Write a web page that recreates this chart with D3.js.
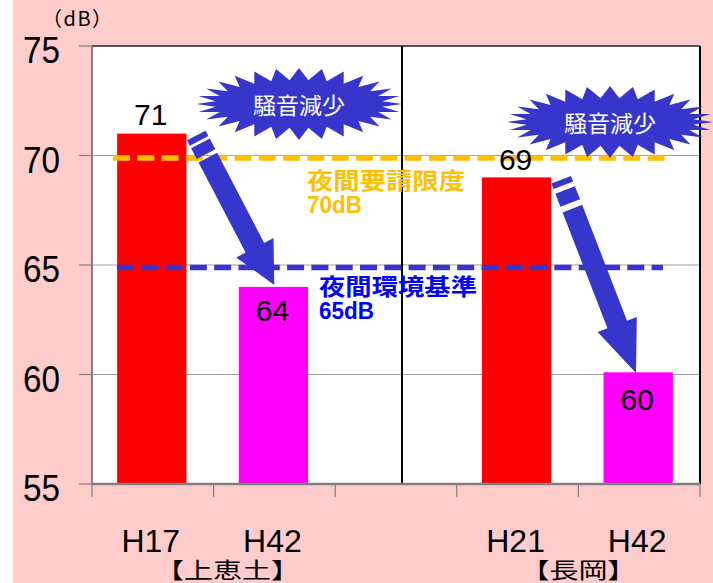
<!DOCTYPE html>
<html><head><meta charset="utf-8">
<script src="https://cdn.jsdelivr.net/npm/d3@7/dist/d3.min.js"></script>
<style>html,body{margin:0;padding:0;background:#fff;} svg{display:block;}</style>
</head><body>
<script>
// ---- data ----
const categories = ["H17", "H42", "", "H21", "H42"];
const values = [71, 64, null, 69, 60.1];
const groupNames = ["【上恵土】", "【長岡】"];
const groupSpans = [[0, 1], [3, 4]];
const yTicks = [55, 60, 65, 70, 75];
const gridValues = [60, 65, 70];
const refValues = [70, 65];
const refTitles = ["夜間要請限度", "夜間環境基準"];
const refSubs = ["70dB", "65dB"];
const arrowPairs = [[0, 1], [3, 4]];
const burstText = "騒音減少";
const unitText = "（dB）";

// ---- layout ----
const W = 713, H = 583;
const svg = d3.select("body").append("svg").attr("width", W).attr("height", H);
const L = 92, R = 700, T = 46, B = 484;
const x = d3.scaleBand().domain(d3.range(categories.length)).range([L, R]).padding(0);
const y = d3.scaleLinear().domain([55, 75]).range([B, T]);
const bw = x.bandwidth() * 0.57;
const cx = i => x(i) + x.bandwidth() / 2;

svg.append("rect").attr("x", 13).attr("y", 0).attr("width", W - 13).attr("height", H).attr("fill", "#FFCCCC");
svg.append("rect").attr("x", L).attr("y", T).attr("width", R - L).attr("height", B - T).attr("fill", "#fff");

// grid
svg.selectAll(".grid").data(gridValues).join("line")
  .attr("x1", L).attr("x2", R).attr("y1", d => y(d)).attr("y2", d => y(d))
  .attr("stroke", "#A0A0A0").attr("stroke-width", 1.2);

// bars
const barColors = ["#FF0000", "#FF00FF", "none", "#FF0000", "#FF00FF"];
svg.selectAll(".bar").data(values.map((v, i) => ({v, i})).filter(d => d.v != null)).join("rect")
  .attr("x", d => cx(d.i) - bw / 2 - 1).attr("width", bw)
  .attr("y", d => y(d.v)).attr("height", d => y(55) - y(d.v))
  .attr("fill", d => barColors[d.i]);

// frame
svg.append("line").attr("x1", L).attr("x2", R).attr("y1", T).attr("y2", T).attr("stroke", "#222").attr("stroke-width", 1.5);
svg.append("line").attr("x1", R).attr("x2", R).attr("y1", T).attr("y2", B).attr("stroke", "#000").attr("stroke-width", 2);
svg.append("line").attr("x1", cx(2) + 6).attr("x2", cx(2) + 6).attr("y1", T).attr("y2", B).attr("stroke", "#000").attr("stroke-width", 2);

// reference lines
const refColors = ["#FFC000", "#3636CC"];
const refX = [[113, 665], [117, 663]];
refValues.forEach((v, k) => {
  svg.append("line").attr("x1", refX[k][0]).attr("x2", refX[k][1])
    .attr("y1", y(v) + 2.6).attr("y2", y(v) + 2.6)
    .attr("stroke", refColors[k]).attr("stroke-width", 5.5).attr("stroke-dasharray", "17,7.3");
});

// ref labels
const refTextColors = ["#FFC000", "#0000FF"];
const refTextX = [307, 319];
const refTextY = [189, 295];
refValues.forEach((v, k) => {
  svg.append("text").attr("x", refTextX[k]).attr("y", refTextY[k])
    .attr("font-family", "'Noto Sans CJK JP', sans-serif").attr("font-weight", 700).attr("font-size", 23)
    .attr("textLength", 158).attr("lengthAdjust", "spacingAndGlyphs")
    .attr("fill", refTextColors[k]).text(refTitles[k]);
  svg.append("text").attr("x", refTextX[k]).attr("y", refTextY[k] + 24)
    .attr("font-family", "'Liberation Sans', Arial, sans-serif").attr("font-weight", 700).attr("font-size", 24)
    .attr("textLength", 55).attr("lengthAdjust", "spacingAndGlyphs")
    .attr("fill", refTextColors[k]).text(refSubs[k]);
});

// value labels
const fmt = d3.format(".0f");
const labelOffset = [-9, 34, 0, -7.5, 38];
values.forEach((v, i) => {
  if (v == null) return;
  svg.append("text").attr("x", cx(i) - 2).attr("y", y(v) + labelOffset[i])
    .attr("text-anchor", "middle")
    .attr("font-family", "'Liberation Sans', Arial, sans-serif").attr("font-size", 30)
    .attr("fill", "#000").text(fmt(v));
});

// arrows
const arrowStarts = [[196.3, 135.5], [561.2, 179.7]];
const arrowTips = [[274.3, 285], [636, 373]];
const headLen = [42, 52];
const cuts = [[6, 9, 21, 25], [6, 11, 25, 31]];
arrowPairs.forEach((p, k) => {
  const [sx, sy] = arrowStarts[k], [tx, ty] = arrowTips[k];
  const len = Math.hypot(tx - sx, ty - sy);
  const ang = Math.atan2(ty - sy, tx - sx) * 180 / Math.PI;
  const g = svg.append("g").attr("transform", `translate(${sx},${sy}) rotate(${ang})`);
  const hw = 10.5, hh = 21, c = cuts[k], hl = headLen[k];
  const rects = [[0, c[0]], [c[1], c[2]]];
  rects.forEach(r => g.append("rect").attr("x", r[0]).attr("y", -hw).attr("width", r[1] - r[0]).attr("height", 2 * hw).attr("fill", "#3636CC"));
  const pts = [[c[3], -hw], [len - hl, -hw], [len - hl, -hh], [len, 0], [len - hl, hh], [len - hl, hw], [c[3], hw]];
  g.append("polygon").attr("points", pts.map(q => q.join(",")).join(" ")).attr("fill", "#3636CC");
});

// bursts
const burstCenters = [[299, 104], [610, 122]];
function burst(cxp, cyp, rxo, ryo, rxi, ryi, n) {
  const pts = [];
  for (let i = 0; i < 2 * n; i++) {
    const a = -Math.PI / 2 + i * Math.PI / n;
    const o = i % 2 === 0;
    pts.push([cxp + (o ? rxo : rxi) * Math.cos(a), cyp + (o ? ryo : ryi) * Math.sin(a)]);
  }
  return pts;
}
burstCenters.forEach(([bx, by]) => {
  svg.append("polygon").attr("points", burst(bx, by, 103, 36, 84, 24, 28).map(q => q.join(",")).join(" "))
    .attr("fill", "#3636CC");
  svg.append("text").attr("x", bx).attr("y", by + 10).attr("text-anchor", "middle")
    .attr("font-family", "'Noto Sans CJK JP', sans-serif").attr("font-size", 23)
    .attr("fill", "#fff").text(burstText);
});

// axes
svg.append("line").attr("x1", L).attr("x2", L).attr("y1", T).attr("y2", B).attr("stroke", "#808080").attr("stroke-width", 2);
svg.append("line").attr("x1", L).attr("x2", R).attr("y1", B).attr("y2", B).attr("stroke", "#808080").attr("stroke-width", 2.5);
svg.selectAll(".yt").data(yTicks).join("line")
  .attr("x1", 79).attr("x2", L).attr("y1", d => y(d)).attr("y2", d => y(d)).attr("stroke", "#808080").attr("stroke-width", 1.2);
svg.selectAll(".ytl").data(yTicks).join("text")
  .attr("x", 60).attr("y", d => y(d) + 17).attr("text-anchor", "end")
  .attr("font-family", "'Liberation Sans', Arial, sans-serif").attr("font-size", 36)
  .attr("textLength", 37).attr("lengthAdjust", "spacingAndGlyphs")
  .attr("fill", "#000").text(d => d);
const xb = d3.range(categories.length + 1).map(i => L + i * x.step());
svg.selectAll(".xt").data(xb).join("line")
  .attr("x1", d => d).attr("x2", d => d).attr("y1", B).attr("y2", B + 13).attr("stroke", "#808080").attr("stroke-width", 1.2);
svg.selectAll(".xtl").data(categories.map((c, i) => ({c, i})).filter(d => d.c)).join("text")
  .attr("x", d => cx(d.i) - 2).attr("y", 552).attr("text-anchor", "middle")
  .attr("font-family", "'Liberation Sans', Arial, sans-serif").attr("font-size", 32)
  .attr("fill", "#000").text(d => d.c);
const groupShift = [14, 0];
const groupLen = [145, 116];
groupNames.forEach((n, k) => {
  const gx = (cx(groupSpans[k][0]) + cx(groupSpans[k][1])) / 2 + groupShift[k];
  svg.append("text").attr("x", gx - groupLen[k] / 2).attr("y", 578)
    .attr("font-family", "'Noto Sans CJK JP', sans-serif").attr("font-size", 22)
    .attr("textLength", groupLen[k]).attr("lengthAdjust", "spacingAndGlyphs")
    .attr("fill", "#000").text(n);
});
svg.append("text").attr("x", 42).attr("y", 26)
  .attr("font-family", "'Noto Sans CJK JP', sans-serif").attr("font-size", 20)
  .attr("textLength", 70).attr("lengthAdjust", "spacing")
  .attr("fill", "#000").text(unitText);
</script>
</body></html>
